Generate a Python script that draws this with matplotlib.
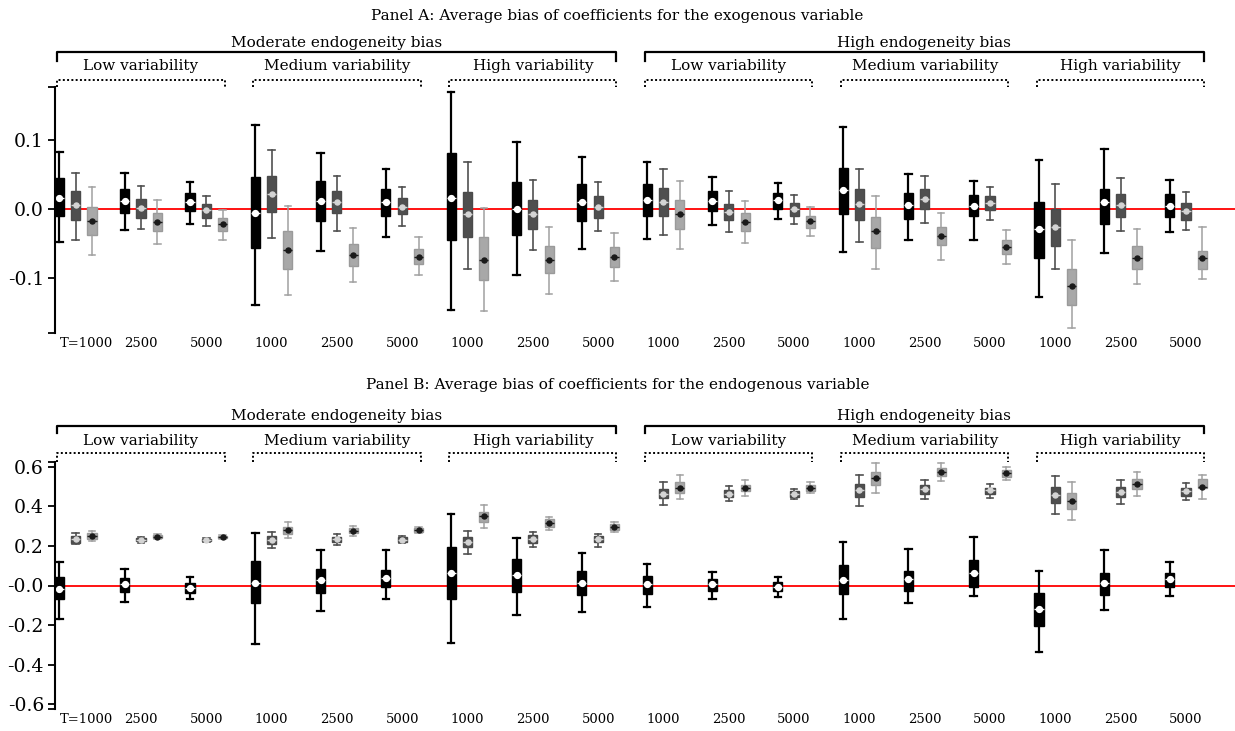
import matplotlib
matplotlib.use('Agg')
import matplotlib.pyplot as plt
import matplotlib.transforms as mtransforms

plt.rcParams['font.family'] = 'DejaVu Serif'

# x labels, one per T group
t_labels = ['T=1000', '2500', '5000'] + ['1000', '2500', '5000'] * 5
endog_labels = ['Moderate endogeneity bias', 'High endogeneity bias']
var_labels = ['Low variability', 'Medium variability', 'High variability']

# Panel A (exogenous variable); rows = black, dark gray, light gray estimator
a_whi = [[0.083, 0.052, 0.040, 0.122, 0.082, 0.059, 0.171, 0.098, 0.076, 0.068, 0.047, 0.038, 0.120, 0.051, 0.041, 0.071, 0.088, 0.043],
         [0.053, 0.034, 0.020, 0.086, 0.049, 0.033, 0.068, 0.043, 0.039, 0.059, 0.026, 0.021, 0.059, 0.049, 0.033, 0.037, 0.045, 0.025],
         [0.032, 0.013, -0.001, 0.005, -0.027, -0.040, 0.002, -0.025, -0.034, 0.041, 0.012, 0.003, 0.019, -0.005, -0.030, -0.044, -0.029, -0.026]]
a_q3 = [[0.046, 0.029, 0.023, 0.047, 0.041, 0.030, 0.082, 0.040, 0.037, 0.037, 0.027, 0.024, 0.060, 0.024, 0.021, 0.011, 0.029, 0.022],
        [0.027, 0.015, 0.008, 0.049, 0.026, 0.016, 0.025, 0.014, 0.019, 0.031, 0.008, 0.009, 0.029, 0.029, 0.019, 0.000, 0.022, 0.009],
        [0.004, -0.005, -0.013, -0.032, -0.050, -0.057, -0.040, -0.053, -0.055, 0.013, -0.006, -0.009, -0.011, -0.025, -0.045, -0.086, -0.053, -0.060]]
a_mean = [[0.017, 0.012, 0.010, -0.006, 0.012, 0.011, 0.016, 0.001, 0.010, 0.014, 0.012, 0.013, 0.028, 0.006, 0.005, -0.029, 0.011, 0.005],
          [0.006, 0.002, -0.001, 0.022, 0.010, 0.004, -0.007, -0.007, 0.004, 0.011, -0.004, 0.001, 0.007, 0.015, 0.009, -0.026, 0.006, -0.002],
          [-0.017, -0.019, -0.022, -0.059, -0.066, -0.069, -0.073, -0.073, -0.069, -0.007, -0.018, -0.017, -0.032, -0.039, -0.055, -0.111, -0.070, -0.071]]
a_q1 = [[-0.010, -0.006, -0.003, -0.056, -0.017, -0.010, -0.045, -0.037, -0.017, -0.009, -0.003, 0.001, -0.007, -0.014, -0.010, -0.070, -0.021, -0.011],
        [-0.015, -0.012, -0.012, -0.004, -0.006, -0.007, -0.040, -0.029, -0.012, -0.009, -0.016, -0.009, -0.016, 0.001, -0.001, -0.053, -0.011, -0.015],
        [-0.037, -0.032, -0.032, -0.086, -0.082, -0.080, -0.103, -0.093, -0.084, -0.029, -0.031, -0.027, -0.056, -0.052, -0.065, -0.139, -0.086, -0.086]]
a_wlo = [[-0.048, -0.030, -0.021, -0.139, -0.061, -0.040, -0.146, -0.096, -0.058, -0.043, -0.023, -0.014, -0.062, -0.044, -0.044, -0.128, -0.063, -0.033],
         [-0.044, -0.029, -0.024, -0.042, -0.031, -0.024, -0.086, -0.059, -0.031, -0.037, -0.033, -0.021, -0.048, -0.020, -0.016, -0.087, -0.032, -0.030],
         [-0.067, -0.051, -0.044, -0.124, -0.106, -0.096, -0.148, -0.123, -0.104, -0.057, -0.049, -0.039, -0.087, -0.073, -0.079, -0.173, -0.108, -0.101]]

# Panel B (endogenous variable)
b_whi = [[0.119, 0.082, 0.045, 0.267, 0.181, 0.178, 0.359, 0.242, 0.164, 0.109, 0.070, 0.045, 0.221, 0.186, 0.245, 0.075, 0.179, 0.117],
         [0.263, 0.247, 0.240, 0.269, 0.258, 0.250, 0.277, 0.269, 0.260, 0.523, 0.503, 0.489, 0.556, 0.533, 0.511, 0.553, 0.531, 0.519],
         [0.277, 0.258, 0.253, 0.321, 0.300, 0.294, 0.405, 0.348, 0.322, 0.558, 0.531, 0.521, 0.617, 0.620, 0.600, 0.523, 0.575, 0.560]]
b_q3 = [[0.045, 0.036, 0.013, 0.125, 0.083, 0.077, 0.194, 0.132, 0.073, 0.050, 0.031, 0.018, 0.105, 0.073, 0.127, -0.036, 0.061, 0.065],
        [0.252, 0.240, 0.237, 0.248, 0.247, 0.243, 0.247, 0.255, 0.248, 0.489, 0.482, 0.477, 0.513, 0.506, 0.494, 0.498, 0.496, 0.494],
        [0.263, 0.255, 0.252, 0.296, 0.289, 0.289, 0.373, 0.334, 0.312, 0.521, 0.509, 0.509, 0.575, 0.595, 0.585, 0.469, 0.540, 0.538]]
b_mean = [[-0.016, 0.006, -0.011, 0.013, 0.026, 0.036, 0.063, 0.053, 0.014, 0.006, 0.006, -0.006, 0.026, 0.031, 0.061, -0.119, 0.014, 0.031],
          [0.237, 0.232, 0.230, 0.230, 0.233, 0.232, 0.220, 0.233, 0.233, 0.464, 0.464, 0.462, 0.482, 0.486, 0.480, 0.459, 0.471, 0.476],
          [0.250, 0.247, 0.245, 0.280, 0.277, 0.279, 0.349, 0.314, 0.296, 0.494, 0.492, 0.494, 0.543, 0.573, 0.568, 0.427, 0.514, 0.499]]
b_q1 = [[-0.068, -0.033, -0.036, -0.087, -0.036, -0.009, -0.068, -0.031, -0.048, -0.043, -0.026, -0.028, -0.043, -0.026, -0.008, -0.203, -0.046, -0.008],
        [0.216, 0.223, 0.223, 0.211, 0.220, 0.221, 0.193, 0.213, 0.218, 0.440, 0.449, 0.449, 0.449, 0.462, 0.460, 0.418, 0.445, 0.454],
        [0.235, 0.238, 0.240, 0.262, 0.264, 0.269, 0.322, 0.296, 0.280, 0.469, 0.476, 0.479, 0.509, 0.551, 0.550, 0.388, 0.489, 0.492]]
b_wlo = [[-0.169, -0.083, -0.070, -0.297, -0.130, -0.068, -0.289, -0.149, -0.134, -0.110, -0.068, -0.056, -0.169, -0.090, -0.053, -0.334, -0.124, -0.053],
         [0.208, 0.216, 0.220, 0.191, 0.206, 0.213, 0.161, 0.196, 0.196, 0.405, 0.429, 0.435, 0.402, 0.437, 0.442, 0.361, 0.410, 0.432],
         [0.223, 0.233, 0.237, 0.240, 0.250, 0.263, 0.292, 0.279, 0.269, 0.435, 0.454, 0.466, 0.466, 0.528, 0.531, 0.331, 0.454, 0.437]]

box_face = ['black', '#4f4f4f', '#a8a8a8']
box_edge = ['black', '#4a4a4a', '#9a9a9a']
line_col = ['black', '#505050', '#a0a0a0']
mean_col = ['white', '#d4d4d4', '#1a1a1a']
line_w = [1.6, 1.2, 1.1]
mark_sz = [4.2, 3.6, 3.6]
offsets = [0, 0.25, 0.5]

W, H = 1235, 731
fig = plt.figure(figsize=(W / 100, H / 100), dpi=100)


def fy(px):
    return 1 - px / H


def draw_boxes(ax, whi, q3, mean, q1, wlo):
    n = len(t_labels)
    for k in range(3):
        stats = [dict(med=mean[k][i], mean=mean[k][i], q1=q1[k][i], q3=q3[k][i],
                      whislo=wlo[k][i], whishi=whi[k][i], fliers=[]) for i in range(n)]
        ax.bxp(stats, positions=[i + offsets[k] for i in range(n)], widths=0.14, capwidths=0.1,
               patch_artist=True, showmeans=True, showfliers=False, manage_ticks=False,
               boxprops=dict(facecolor=box_face[k], edgecolor=box_edge[k], linewidth=1),
               whiskerprops=dict(color=line_col[k], linewidth=line_w[k]),
               capprops=dict(color=line_col[k], linewidth=line_w[k]),
               medianprops=dict(color=mean_col[k], linewidth=1.0),
               meanprops=dict(marker='o', markersize=mark_sz[k], markerfacecolor=mean_col[k],
                              markeredgecolor=mean_col[k]))
    ax.axhline(0, color='red', lw=1.3, zorder=1.5)
    ax.set_xlim(-0.066, 18.0)
    mids = [i + 0.25 for i in range(n)]
    ax.set_xticks(mids)
    ax.set_xticklabels(t_labels, fontsize=9.5)
    ax.tick_params(axis='x', length=0, pad=3)
    first = ax.get_xticklabels()[0]
    first.set_transform(first.get_transform() + mtransforms.ScaledTranslation(0.11, 0, fig.dpi_scale_trans))
    ax.tick_params(axis='y', direction='out', length=5, width=1.3, labelsize=13.5, pad=3)
    for s in ['top', 'right', 'bottom']:
        ax.spines[s].set_visible(False)
    ax.spines['left'].set_linewidth(1.5)
    ax.patch.set_alpha(0)


def draw_brackets(ax, title, y_title, y1, y1t, y1lab, y2, y2t, y2lab):
    tr = mtransforms.blended_transform_factory(ax.transData, fig.transFigure)
    fig.text(0.5, fy(y_title), title, ha='center', va='center', fontsize=11)
    for e in range(2):
        g0 = e * 9
        x0, x1 = g0 - 0.03, g0 + 8.52
        ax.plot([x0, x0, x1, x1], [fy(y1t), fy(y1), fy(y1), fy(y1t)], color='black', lw=1.6,
                transform=tr, clip_on=False)
        ax.text((x0 + x1) / 2, fy(y1lab), endog_labels[e], ha='center', va='center',
                fontsize=11, transform=tr)
        for v in range(3):
            s = g0 + v * 3
            x0, x1 = s - 0.03, s + 2.53
            ax.plot([x0, x0, x1, x1], [fy(y2t), fy(y2), fy(y2), fy(y2t)], color='black', lw=1.4,
                    ls=(0, (1, 1.2)), transform=tr, clip_on=False)
            ax.text((x0 + x1) / 2, fy(y2lab), var_labels[v], ha='center', va='center',
                    fontsize=11, transform=tr)


left = 55 / W
axA = fig.add_axes([left, fy(333.3), 1 - left, fy(86.7) - fy(333.3)])
draw_boxes(axA, a_whi, a_q3, a_mean, a_q1, a_wlo)
axA.set_ylim(-0.18, 0.178)
axA.set_yticks([-0.18, -0.1, 0.0, 0.1, 0.178])
axA.set_yticklabels(['', '-0.1', '0.0', '0.1', ''])
draw_brackets(axA, 'Panel A: Average bias of coefficients for the exogenous variable',
              16, 52.3, 60.7, 42.7, 80, 86.7, 66)

axB = fig.add_axes([left, fy(709.3), 1 - left, fy(461.7) - fy(709.3)])
draw_boxes(axB, b_whi, b_q3, b_mean, b_q1, b_wlo)
axB.set_ylim(-0.625, 0.625)
axB.set_yticks([-0.625, -0.6, -0.4, -0.2, 0.0, 0.2, 0.4, 0.6, 0.625])
axB.set_yticklabels(['', '-0.6', '-0.4', '-0.2', '-0.0', '0.2', '0.4', '0.6', ''])
draw_brackets(axB, 'Panel B: Average bias of coefficients for the endogenous variable',
              385, 426, 433, 416, 453.3, 461.7, 440.7)

fig.savefig('out.png', dpi=100)
